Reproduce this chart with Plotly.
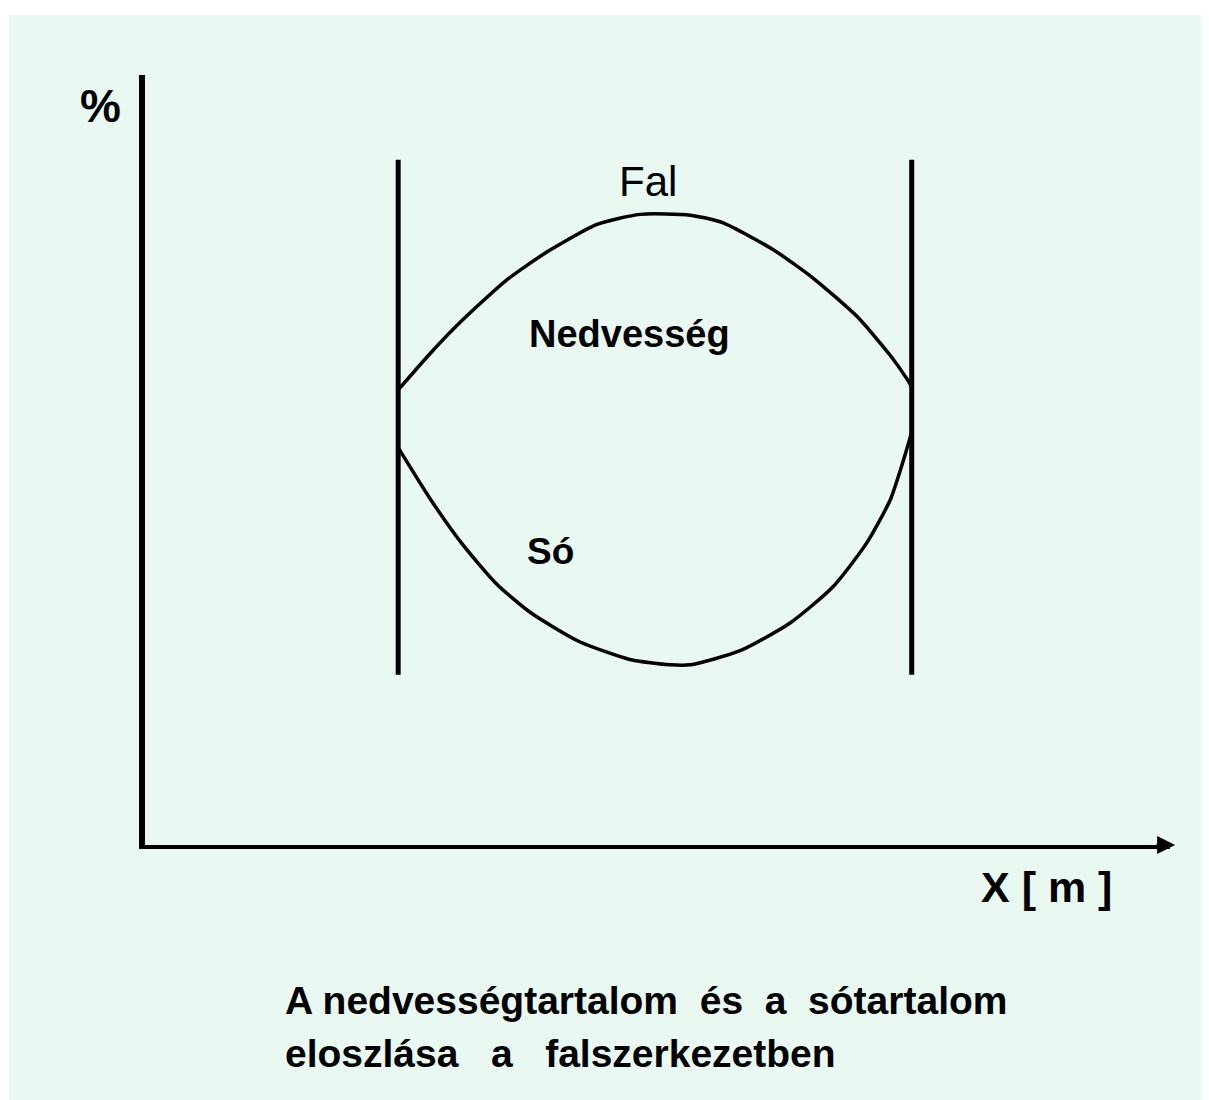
import plotly.graph_objects as go

# ---- data (x position in wall cross-section, % content) ----
wall_x = [2.47, 7.48]
wall_y = [89.0, 22.1]

moisture_x = [2.47, 2.78, 3.10, 3.53, 3.92, 4.41, 4.83, 5.32, 5.64, 6.13, 6.52, 6.95, 7.27, 7.43, 7.48]
moisture_y = [59.1, 63.8, 68.2, 73.4, 77.0, 80.6, 81.9, 81.8, 80.8, 77.3, 73.6, 68.6, 63.6, 60.6, 59.5]

salt_x = [2.47, 2.78, 3.10, 3.43, 3.76, 4.24, 4.73, 5.12, 5.32, 5.80, 6.29, 6.71, 7.04, 7.27, 7.40, 7.48]
salt_y = [51.6, 45.0, 39.0, 33.9, 30.2, 26.4, 24.1, 23.4, 23.4, 25.2, 28.8, 33.5, 39.2, 44.8, 50.0, 53.6]

labels = ["Fal", "Nedvesség", "Só"]
label_x = [4.91, 4.73, 3.96]
label_y = [86.2, 66.4, 38.1]

y_title = "%"
x_title = "X [ m ]"
caption_1 = "A nedvességtartalom\u00a0 és\u00a0 a\u00a0 sótartalom"
caption_2 = "eloszlása\u00a0\u00a0 a\u00a0\u00a0 falszerkezetben"

BG = "#e9f9f1"
OFF = 8  # page body margin
W, H = 1201, 1092
L, R, T, B = 137, 39, 67, 255
PW, PH = W - L - R, H - T - B


def px_x(p):
    return (p - OFF - L) / PW


def px_y(p):
    return (H - B - (p - OFF)) / PH


fig = go.Figure()

# walls
for wx in wall_x:
    fig.add_trace(go.Scatter(x=[wx, wx], y=wall_y, mode="lines",
                             line=dict(color="black", width=5), hoverinfo="skip"))

fig.add_trace(go.Scatter(x=moisture_x, y=moisture_y, mode="lines",
                         line=dict(color="black", width=3.5, shape="spline", smoothing=0.6),
                         hoverinfo="skip"))
fig.add_trace(go.Scatter(x=salt_x, y=salt_y, mode="lines",
                         line=dict(color="black", width=3.5, shape="spline", smoothing=0.6),
                         hoverinfo="skip"))

font_b = "Liberation Sans"
sizes = [42, 38, 37]
bolds = [False, True, True]
for t, lx, ly, s, b in zip(labels, label_x, label_y, sizes, bolds):
    fig.add_annotation(x=lx, y=ly, text=f"<b>{t}</b>" if b else t, showarrow=False,
                       xanchor="center", yanchor="middle",
                       font=dict(family=font_b, size=s, color="black"))

fig.add_annotation(x=px_x(100), y=px_y(106), xref="paper", yref="paper",
                   xanchor="center", yanchor="middle",
                   text=f"<b>{y_title}</b>", showarrow=False,
                   font=dict(family=font_b, size=46, color="black"))
fig.add_annotation(x=px_x(1046), y=px_y(887), xref="paper", yref="paper",
                   xanchor="center", yanchor="middle",
                   text=f"<b>{x_title}</b>", showarrow=False,
                   font=dict(family=font_b, size=43, color="black"))
fig.add_annotation(x=px_x(283), y=px_y(1000), xref="paper", yref="paper",
                   xanchor="left", yanchor="middle", text=f"<b>{caption_1}</b>", showarrow=False,
                   font=dict(family=font_b, size=39, color="black"))
fig.add_annotation(x=px_x(283), y=px_y(1053), xref="paper", yref="paper",
                   xanchor="left", yanchor="middle", text=f"<b>{caption_2}</b>", showarrow=False,
                   font=dict(family=font_b, size=39, color="black"))

# arrow head on x axis
fig.add_annotation(x=1.005, y=0, xref="paper", yref="paper", ax=-20, ay=0,
                   text="", showarrow=True, arrowhead=2, arrowsize=1.2,
                   arrowwidth=3, arrowcolor="black")

# mint background panel with white border strip
fig.add_shape(type="rect", xref="paper", yref="paper", layer="below",
              x0=px_x(9), x1=px_x(1230), y0=px_y(15), y1=px_y(1120),
              fillcolor=BG, line=dict(width=0))

fig.update_xaxes(range=[0, 10], showline=True, linewidth=4, linecolor="black",
                 showgrid=False, zeroline=False, showticklabels=False, ticks="")
fig.update_yaxes(range=[0, 100], showline=True, linewidth=6, linecolor="black",
                 showgrid=False, zeroline=False, showticklabels=False, ticks="")

fig.update_layout(width=W, height=H, margin=dict(l=L, r=R, t=T, b=B),
                  paper_bgcolor="white", plot_bgcolor="rgba(0,0,0,0)",
                  showlegend=False)

fig.write_html("out.html")
